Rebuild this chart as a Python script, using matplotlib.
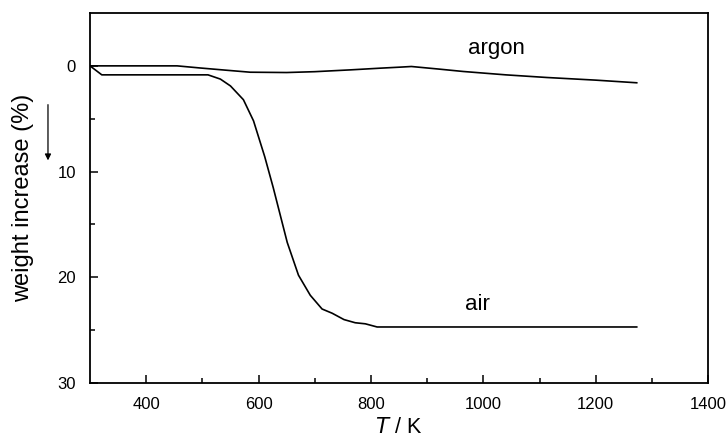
import matplotlib
matplotlib.use('Agg')
import matplotlib.pyplot as plt
import numpy as np

plt.rcParams['font.family'] = ['Liberation Sans', 'DejaVu Sans']

# TG curves (T in K, weight increase in %)
air_T = [300, 321, 510, 532, 550, 573, 591, 611, 626, 651, 671, 692, 713,
         731, 752, 772, 790, 811, 1273]
air_w = [0.0, 0.85, 0.85, 1.25, 1.9, 3.2, 5.2, 8.6, 11.5, 16.7, 19.8, 21.7,
         23.0, 23.4, 24.0, 24.3, 24.4, 24.7, 24.7]

argon_T = [300, 455, 496, 540, 585, 650, 700, 763, 816, 852, 872, 920, 964,
           1040, 1113, 1200, 1273]
argon_w = [0.0, 0.0, 0.2, 0.4, 0.6, 0.63, 0.55, 0.38, 0.22, 0.12, 0.06, 0.3,
           0.53, 0.85, 1.1, 1.35, 1.6]

x_major = [400, 600, 800, 1000, 1200, 1400]
x_minor = [500, 700, 900, 1100, 1300]
y_major = [0, 10, 20, 30]
y_minor = [5, 15, 25]

fig = plt.figure(figsize=(7.27, 4.41), dpi=100)
ax = fig.add_axes([0.1238, 0.1315, 0.8502, 0.839])

ax.plot(air_T, air_w, color='black', lw=1.2)
ax.plot(argon_T, argon_w, color='black', lw=1.2)

ax.set_xlim(300, 1400)
ax.set_ylim(30, -5)
ax.set_xticks(x_major)
ax.set_xticks(x_minor, minor=True)
ax.set_yticks(y_major)
ax.set_yticks(y_minor, minor=True)
ax.tick_params(which='both', direction='in', top=False, right=False,
               labelsize=12, width=1.1)
ax.tick_params(axis='x', which='major', length=6, pad=10)
ax.tick_params(axis='y', which='major', length=6, pad=10)
ax.tick_params(which='minor', length=3.5)
for s in ax.spines.values():
    s.set_linewidth(1.3)

ax.set_xlabel(r'$\it{T}$ / K', fontsize=15.5, labelpad=4)
ax.set_ylabel('weight increase (%)', fontsize=17, labelpad=17)

ax.text(1024, -1.6, 'argon', fontsize=16, ha='center', va='center')
ax.text(990, 22.6, 'air', fontsize=16, ha='center', va='center')

# arrow next to the y label pointing down (increase direction)
fig.patches.append(matplotlib.patches.FancyArrowPatch(
    (0.066, 0.769), (0.066, 0.630), transform=fig.transFigure,
    arrowstyle='-|>', mutation_scale=9, lw=0.9, color='black'))

fig.savefig('out.png', dpi=100, facecolor='white')
